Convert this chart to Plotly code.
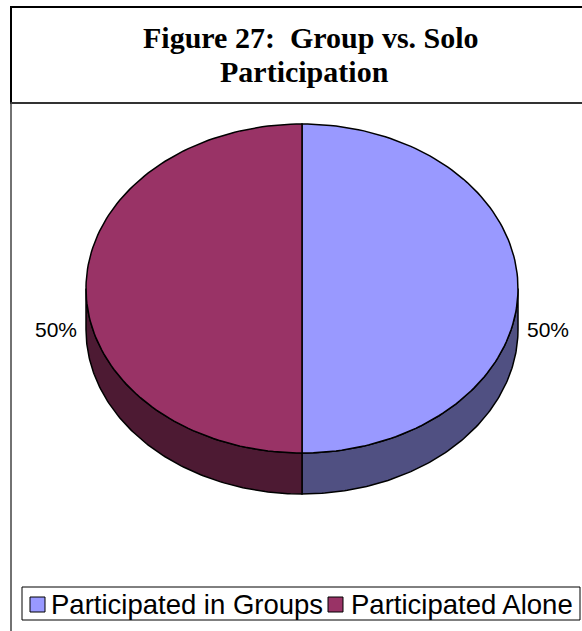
import numpy as np
import plotly.graph_objects as go

# Data
categories = ["Participated in Groups", "Participated Alone"]
shares = [50, 50]
title_lines = ["Figure 27:&nbsp; Group vs. Solo", "Participation"]

top_colors = ["#9999FF", "#993366"]
side_colors = ["#505082", "#4D1A33"]

W, H = 582, 631

# Tilted pie geometry (pixel space)
cx, cy = 302, 288.5
rx, ry = 216, 164.5
depth = 41


def arc(a0, a1, dy=0.0, n=120):
    t = np.radians(np.linspace(a0, a1, n))
    return cx + rx * np.sin(t), cy - ry * np.cos(t) + dy


fig = go.Figure()

total = float(sum(shares))
bounds = np.concatenate([[0.0], np.cumsum(shares) / total * 360.0])

# Side walls (front half of the rim only)
for i, name in enumerate(categories):
    a0, a1 = bounds[i], bounds[i + 1]
    s, e = max(a0, 90.0), min(a1, 270.0)
    if e <= s:
        continue
    xt, yt = arc(s, e)
    xb, yb = arc(e, s, dy=depth)
    fig.add_trace(go.Scatter(
        x=np.concatenate([xt, xb, xt[:1]]),
        y=np.concatenate([yt, yb, yt[:1]]),
        mode="lines", fill="toself", fillcolor=side_colors[i],
        line=dict(color="black", width=1.5), hoverinfo="skip", showlegend=False,
    ))

# Top faces
for i, name in enumerate(categories):
    a0, a1 = bounds[i], bounds[i + 1]
    xa, ya = arc(a0, a1)
    fig.add_trace(go.Scatter(
        x=np.concatenate([[cx], xa, [cx]]),
        y=np.concatenate([[cy], ya, [cy]]),
        mode="lines", fill="toself", fillcolor=top_colors[i],
        line=dict(color="black", width=1.5), name=name,
        hoverinfo="name", showlegend=False,
    ))

annotations = []
# Percentage labels outside each slice
for i, v in enumerate(shares):
    mid = np.radians((bounds[i] + bounds[i + 1]) / 2)
    lx = cx + (rx + 30) * np.sin(mid)
    ly = cy + depth - (ry + 20) * np.cos(mid)
    annotations.append(dict(
        x=lx, y=ly, xref="x", yref="y", text=f"{v / total:.0%}", showarrow=False,
        xanchor="center", yanchor="middle",
        font=dict(family="Liberation Sans, Arial", size=21, color="black"),
    ))

# Title, one annotation per line
title_pos = [(311, 37), (304, 71)]
for line, (tx, ty) in zip(title_lines, title_pos):
    annotations.append(dict(
        x=tx, y=ty, xref="x", yref="y", text=line, showarrow=False,
        xanchor="center", yanchor="middle",
        font=dict(family="Liberation Serif, Times New Roman", size=30,
                  color="black", weight="bold"),
    ))

shapes = [
    # title frame
    dict(type="rect", xref="x", yref="y", x0=11, x1=700, y0=7, y1=103,
         line=dict(color="black", width=2), layer="below"),
    # plot frame
    dict(type="rect", xref="x", yref="y", x0=11, x1=700, y0=103, y1=700,
         line=dict(color="#444444", width=1.5), layer="below"),
    # legend frame
    dict(type="rect", xref="x", yref="y", x0=22, x1=580, y0=587, y1=620,
         line=dict(color="black", width=1), layer="below"),
]

# Legend entries
legend_sq = [30, 328]
legend_tx = [49, 349]
for i, name in enumerate(categories):
    shapes.append(dict(type="rect", xref="x", yref="y",
                       x0=legend_sq[i], x1=legend_sq[i] + 15, y0=597, y1=612,
                       fillcolor=top_colors[i], line=dict(color="black", width=1)))
    annotations.append(dict(
        x=legend_tx[i], y=604.5, xref="x", yref="y", text=name, showarrow=False,
        xanchor="left", yanchor="middle",
        font=dict(family="Liberation Sans, Arial", size=27.5, color="black"),
    ))

fig.update_layout(
    width=W, height=H, margin=dict(l=0, r=0, t=0, b=0),
    paper_bgcolor="white", plot_bgcolor="white",
    xaxis=dict(range=[0, W], visible=False, fixedrange=True),
    yaxis=dict(range=[H, 0], visible=False, fixedrange=True),
    annotations=annotations, shapes=shapes, showlegend=False,
)

fig.write_html("out.html")
